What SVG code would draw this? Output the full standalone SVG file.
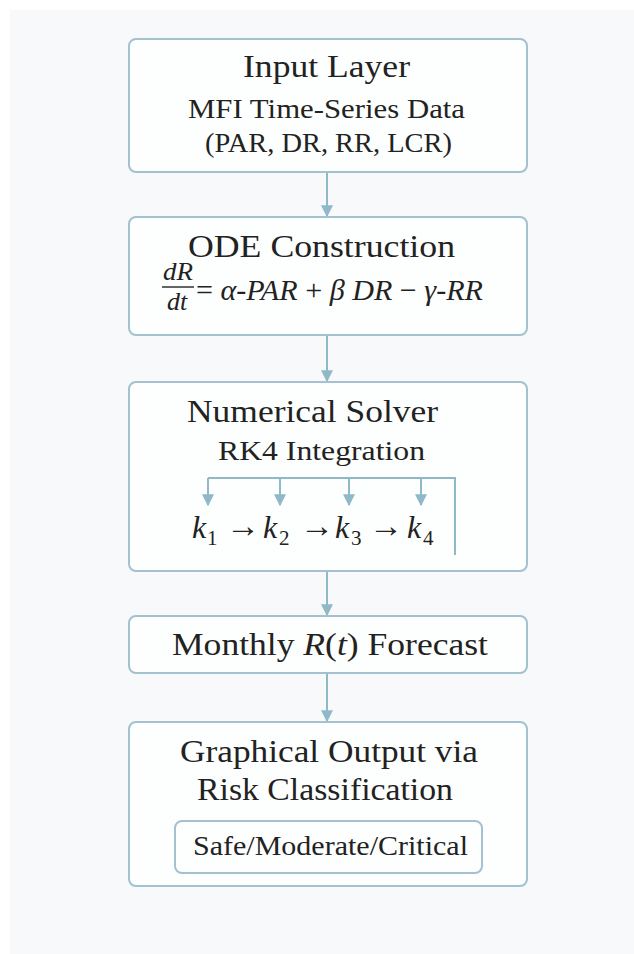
<svg xmlns="http://www.w3.org/2000/svg" width="634" height="954" viewBox="0 0 634 954">
<defs>
<style>
.box{fill:#fdfefe;stroke:#a3c1cf;stroke-width:2}
.t{font-family:"Liberation Serif","DejaVu Serif",serif;fill:#222}
.h{font-size:32px}
.s{font-size:27px}
.m{font-family:"Liberation Serif","DejaVu Serif",serif;fill:#222;font-style:italic}
.c{stroke:#8fb9c9;stroke-width:2;fill:none}
.ar{font-style:normal;text-anchor:middle}
</style>
<marker id="ah" viewBox="0 0 10 10" refX="9" refY="5" markerWidth="6" markerHeight="6" orient="auto" markerUnits="strokeWidth">
<path d="M0,0 L10,5 L0,10 z" fill="#8fb9c9"/>
</marker>
</defs>
<rect width="634" height="954" fill="#ffffff"/>
<rect x="10" y="10" width="624" height="944" fill="#f8f9fa"/>

<g id="connectors">
<line class="c" x1="327" y1="172" x2="327" y2="216" marker-end="url(#ah)"/>
<line class="c" x1="327" y1="335" x2="327" y2="381" marker-end="url(#ah)"/>
<line class="c" x1="327" y1="571" x2="327" y2="615" marker-end="url(#ah)"/>
<line class="c" x1="327" y1="673" x2="327" y2="721" marker-end="url(#ah)"/>
</g>

<g id="input-layer">
<rect class="box" x="129" y="39" width="398" height="133" rx="7"/>
<text class="t h" x="243" y="77" textLength="167" lengthAdjust="spacingAndGlyphs">Input Layer</text>
<text class="t s" x="188" y="118" textLength="277" lengthAdjust="spacingAndGlyphs">MFI Time-Series Data</text>
<text class="t s" x="205" y="152" textLength="247" lengthAdjust="spacingAndGlyphs">(PAR, DR, RR, LCR)</text>
</g>

<g id="ode-construction">
<rect class="box" x="129" y="217" width="398" height="118" rx="7"/>
<text class="t h" x="188" y="257" textLength="267" lengthAdjust="spacingAndGlyphs">ODE Construction</text>
<text class="m" x="163" y="280" font-size="26" textLength="30" lengthAdjust="spacingAndGlyphs">dR</text>
<line x1="162" y1="287" x2="194" y2="287" stroke="#222" stroke-width="1.4"/>
<text class="m" x="167" y="310" font-size="26">dt</text>
<text class="m" x="196" y="300" font-size="30" textLength="287" lengthAdjust="spacingAndGlyphs"><tspan font-style="normal">=</tspan> α-PAR <tspan font-style="normal">+</tspan> β DR <tspan font-style="normal">−</tspan> γ-RR</text>
</g>

<g id="numerical-solver">
<rect class="box" x="129" y="382" width="398" height="189" rx="7"/>
<text class="t h" x="187" y="422" textLength="251" lengthAdjust="spacingAndGlyphs">Numerical Solver</text>
<text class="t s" x="218" y="460" textLength="207" lengthAdjust="spacingAndGlyphs">RK4 Integration</text>
<path class="c" d="M208,478 H455 V555"/>
<line class="c" x1="208" y1="478" x2="208" y2="505" marker-end="url(#ah)"/>
<line class="c" x1="280" y1="478" x2="280" y2="505" marker-end="url(#ah)"/>
<line class="c" x1="349" y1="478" x2="349" y2="505" marker-end="url(#ah)"/>
<line class="c" x1="421" y1="478" x2="421" y2="505" marker-end="url(#ah)"/>
<g class="m" font-size="32">
<text x="192" y="538">k</text><text x="207" y="545" font-size="21" font-style="normal">1</text>
<text class="ar" x="243" y="537" font-size="34">→</text>
<text x="263" y="538">k</text><text x="279" y="545" font-size="21" font-style="normal">2</text>
<text class="ar" x="317" y="537" font-size="34">→</text>
<text x="335" y="538">k</text><text x="351" y="545" font-size="21" font-style="normal">3</text>
<text class="ar" x="386" y="537" font-size="34">→</text>
<text x="407" y="538">k</text><text x="423" y="545" font-size="21" font-style="normal">4</text>
</g>
</g>

<g id="monthly-forecast">
<rect class="box" x="129" y="616" width="398" height="57" rx="7"/>
<text class="t h" x="172" y="655" textLength="316" lengthAdjust="spacingAndGlyphs">Monthly <tspan font-style="italic">R</tspan>(<tspan font-style="italic">t</tspan>) Forecast</text>
</g>

<g id="graphical-output">
<rect class="box" x="129" y="722" width="398" height="164" rx="7"/>
<text class="t h" x="180" y="762" textLength="298" lengthAdjust="spacingAndGlyphs">Graphical Output via</text>
<text class="t h" x="197" y="800" textLength="256" lengthAdjust="spacingAndGlyphs">Risk Classification</text>
<rect class="box" x="175" y="821" width="307" height="52" rx="7" stroke-width="1.5"/>
<text class="t s" x="193" y="855" textLength="275" lengthAdjust="spacingAndGlyphs">Safe/Moderate/Critical</text>
</g>
</svg>
